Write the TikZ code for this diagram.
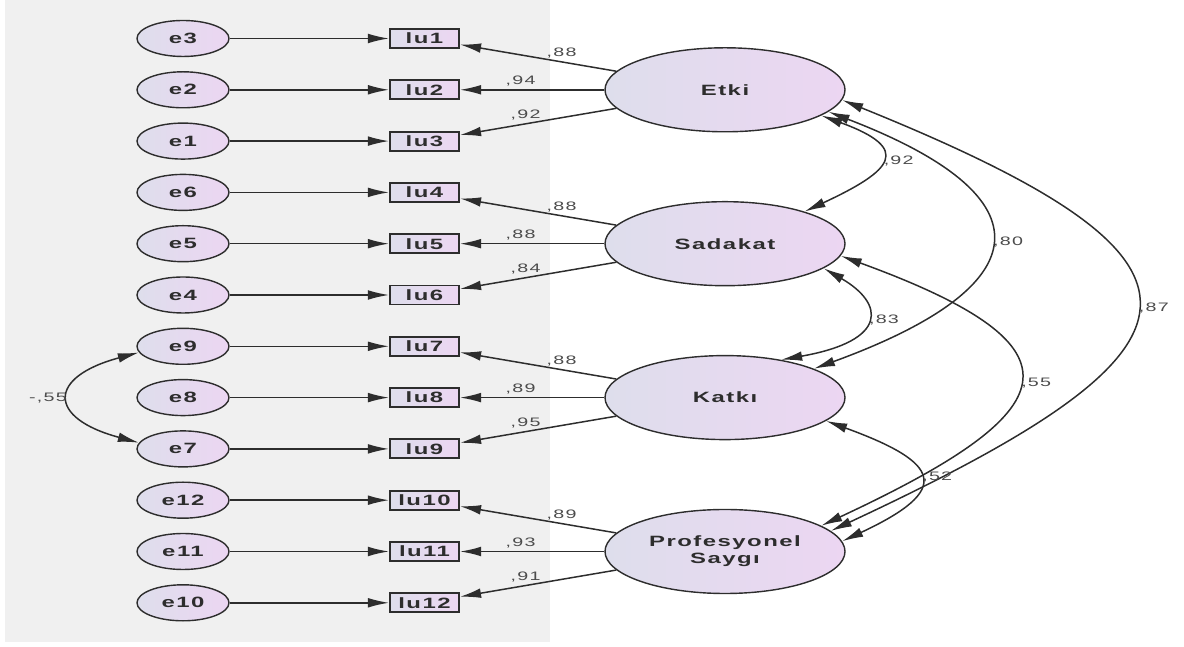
\documentclass[tikz,border=0pt]{standalone}
\usepackage{fontspec}
\newfontfamily\amosfont[FakeStretch=1.6,LetterSpace=10]{Liberation Sans}
\usetikzlibrary{shapes.geometric,arrows.meta}
\definecolor{panel}{RGB}{240,240,240}
\definecolor{fillblue}{RGB}{222,222,236}
\definecolor{fillpink}{RGB}{236,214,242}
\definecolor{ink}{RGB}{45,45,45}

\begin{document}
\begin{tikzpicture}[
    err/.style={ellipse, draw=ink, line width=0.8pt, left color=fillblue, right color=fillpink,
        minimum width=1.84cm, minimum height=0.72cm, inner sep=0pt, text=ink,
        font=\amosfont\bfseries\fontsize{8.5}{9.6}\selectfont},
    indicator/.style={rectangle, draw=ink, line width=1.1pt, left color=fillblue, right color=fillpink,
        minimum width=1.38cm, minimum height=0.38cm, inner sep=0pt, text=ink,
        font=\amosfont\bfseries\fontsize{8.5}{9.6}\selectfont},
    factor/.style={ellipse, draw=ink, line width=0.8pt, left color=fillblue, right color=fillpink,
        minimum width=4.8cm, minimum height=1.68cm, inner sep=0pt, align=center, text=ink,
        font=\amosfont\bfseries\fontsize{8.5}{9.6}\selectfont},
    reg/.style={draw=ink, line width=0.85pt, -{Latex[length=12pt,width=5.5pt]}},
    cov/.style={draw=ink, line width=0.85pt, {Latex[length=12pt,width=5.5pt]}-{Latex[length=12pt,width=5.5pt]}},
    loadlbl/.style={font=\amosfont\fontsize{7}{8}\selectfont, text=ink!85, inner sep=1.5pt}
]
    \useasboundingbox (0,0) rectangle (23.68,12.94);

    % Grey panel behind the measurement part
    \fill[panel] (0.1,0.1) rectangle (11.0,12.94);

    % Error terms
    \node[err] (e3)  at (3.66,12.170) {e3};
    \node[err] (e2)  at (3.66,11.144) {e2};
    \node[err] (e1)  at (3.66,10.118) {e1};
    \node[err] (e6)  at (3.66,9.092)  {e6};
    \node[err] (e5)  at (3.66,8.066)  {e5};
    \node[err] (e4)  at (3.66,7.040)  {e4};
    \node[err] (e9)  at (3.66,6.014)  {e9};
    \node[err] (e8)  at (3.66,4.988)  {e8};
    \node[err] (e7)  at (3.66,3.962)  {e7};
    \node[err] (e12) at (3.66,2.936)  {e12};
    \node[err] (e11) at (3.66,1.910)  {e11};
    \node[err] (e10) at (3.66,0.884)  {e10};

    % Observed items
    \node[indicator] (lu1)  at (8.49,12.170) {lu1};
    \node[indicator] (lu2)  at (8.49,11.144) {lu2};
    \node[indicator] (lu3)  at (8.49,10.118) {lu3};
    \node[indicator] (lu4)  at (8.49,9.092)  {lu4};
    \node[indicator] (lu5)  at (8.49,8.066)  {lu5};
    \node[indicator] (lu6)  at (8.49,7.040)  {lu6};
    \node[indicator] (lu7)  at (8.49,6.014)  {lu7};
    \node[indicator] (lu8)  at (8.49,4.988)  {lu8};
    \node[indicator] (lu9)  at (8.49,3.962)  {lu9};
    \node[indicator] (lu10) at (8.49,2.936)  {lu10};
    \node[indicator] (lu11) at (8.49,1.910)  {lu11};
    \node[indicator] (lu12) at (8.49,0.884)  {lu12};

    % Latent factors
    \node[factor] (etki)    at (14.5,11.144) {Etki};
    \node[factor] (sadakat) at (14.5,8.066)  {Sadakat};
    \node[factor] (katki)   at (14.5,4.988)  {Katkı};
    \node[factor] (prof)    at (14.5,1.910)  {Profesyonel\\Saygı};

    % Error -> item
    \draw[reg] (e3) -- (lu1);
    \draw[reg] (e2) -- (lu2);
    \draw[reg] (e1) -- (lu3);
    \draw[reg] (e6) -- (lu4);
    \draw[reg] (e5) -- (lu5);
    \draw[reg] (e4) -- (lu6);
    \draw[reg] (e9) -- (lu7);
    \draw[reg] (e8) -- (lu8);
    \draw[reg] (e7) -- (lu9);
    \draw[reg] (e12) -- (lu10);
    \draw[reg] (e11) -- (lu11);
    \draw[reg] (e10) -- (lu12);

    % Factor loadings
    \draw[reg] (etki) -- (lu1) node[loadlbl, pos=.35, above] {,88};
    \draw[reg] (etki) -- (lu2) node[loadlbl, pos=.58, above] {,94};
    \draw[reg] (etki) -- (lu3) node[loadlbl, pos=.58, above] {,92};
    \draw[reg] (sadakat) -- (lu4) node[loadlbl, pos=.35, above] {,88};
    \draw[reg] (sadakat) -- (lu5) node[loadlbl, pos=.58, above] {,88};
    \draw[reg] (sadakat) -- (lu6) node[loadlbl, pos=.58, above] {,84};
    \draw[reg] (katki) -- (lu7) node[loadlbl, pos=.35, above] {,88};
    \draw[reg] (katki) -- (lu8) node[loadlbl, pos=.58, above] {,89};
    \draw[reg] (katki) -- (lu9) node[loadlbl, pos=.58, above] {,95};
    \draw[reg] (prof) -- (lu10) node[loadlbl, pos=.35, above] {,89};
    \draw[reg] (prof) -- (lu11) node[loadlbl, pos=.58, above] {,93};
    \draw[reg] (prof) -- (lu12) node[loadlbl, pos=.58, above] {,91};

    % Error covariance
    \draw[cov] (e9.188) .. controls +(195:1.9) and +(165:1.9) .. (e7.172)
        node[loadlbl, pos=.5, left] {-,55};

    % Factor covariances
    \draw[cov] (etki.-15) .. controls +(-20:1.95) and +(25:1.95) .. (sadakat.22)
        node[loadlbl, pos=.5, right] {,92};
    \draw[cov] (etki.-12) .. controls +(-21:4.8) and +(20:4.8) .. (katki.18)
        node[loadlbl, pos=.5, right] {,80};
    \draw[cov] (etki.-5) .. controls +(-22:8.7) and +(25:8.7) .. (prof.11)
        node[loadlbl, pos=.5, right] {,87};
    \draw[cov] (sadakat.-14) .. controls +(-30:1.4) and +(10:2.2) .. (katki.34)
        node[loadlbl, pos=.5, right] {,83};
    \draw[cov] (sadakat.-6) .. controls +(-20:5.4) and +(25:5.4) .. (prof.15)
        node[loadlbl, pos=.5, right] {,55};
    \draw[cov] (katki.-13) .. controls +(-20:2.45) and +(25:2.45) .. (prof.5)
        node[loadlbl, pos=.5, right] {,52};
\end{tikzpicture}
\end{document}
